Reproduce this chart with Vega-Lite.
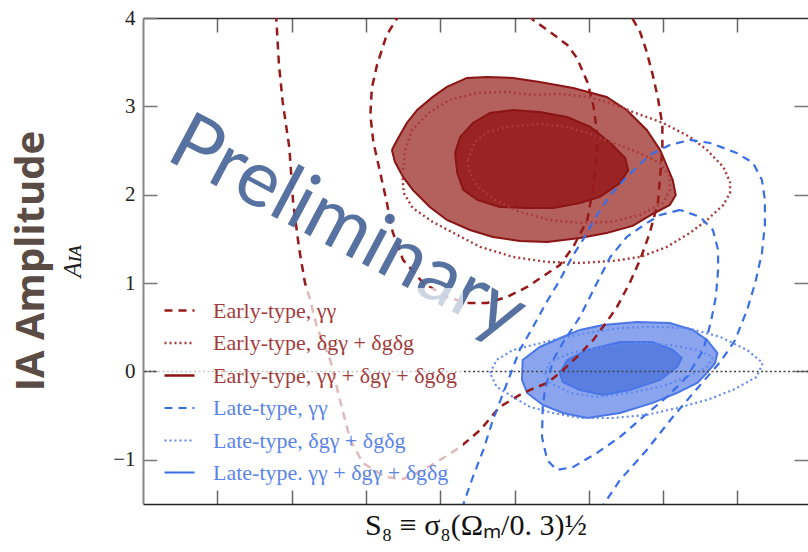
{
"$schema": "https://vega.github.io/schema/vega-lite/v6.json",
"width": 665, "height": 486,
"autosize": {"type": "none"},
"padding": {"left": 143, "top": 18, "right": 0, "bottom": 48},
"background": "white",
"config": {"view": {"stroke": null}, "axis": {"grid": false}},
"title": {"text": "IA Amplitude", "orient": "left", "anchor": "middle", "font": "Open Sans", "fontSize": 40, "fontWeight": "bold", "color": "#5b4b45", "offset": 9},
"resolve": {"axis": {"x": "independent", "y": "independent"}},
"datasets": {
"zero": [{"y": 0}],
"wm": [{"x": 0.76, "y": 1.375, "t": "Preliminary"}],
"pts": [
{"k":"E1a","s":"E1","i":0,"x":0.679,"y":4.05},{"k":"E1a","s":"E1","i":1,"x":0.683,"y":3.469},{"k":"E1a","s":"E1","i":2,"x":0.688,"y":3.05},{"k":"E1a","s":"E1","i":3,"x":0.697,"y":2.529},{"k":"E1a","s":"E1","i":4,"x":0.702,"y":1.918},{"k":"E1a","s":"E1","i":5,"x":0.71,"y":1.398},{"k":"E1a","s":"E1","i":6,"x":0.718,"y":1.002},{"k":"E1a","s":"E1","i":7,"x":0.725,"y":0.809},{"k":"E1a","s":"E1","i":8,"x":0.734,"y":0.504},{"k":"E1a","s":"E1","i":9,"x":0.752,"y":0.13},{"k":"E1a","s":"E1","i":10,"x":0.765,"y":-0.323},{"k":"E1a","s":"E1","i":11,"x":0.779,"y":-0.775},{"k":"E1a","s":"E1","i":12,"x":0.796,"y":-1.036},{"k":"E1a","s":"E1","i":13,"x":0.826,"y":-1.194},{"k":"E1a","s":"E1","i":14,"x":0.85,"y":-1.217},{"k":"E1a","s":"E1","i":15,"x":0.877,"y":-1.115},{"k":"E1a","s":"E1","i":16,"x":0.904,"y":-0.979},{"k":"E1a","s":"E1","i":17,"x":0.927,"y":-0.854},{"k":"E1a","s":"E1","i":18,"x":0.954,"y":-0.662},{"k":"E1a","s":"E1","i":19,"x":0.98,"y":-0.402},{"k":"E1a","s":"E1","i":20,"x":1.007,"y":-0.266},{"k":"E1a","s":"E1","i":21,"x":1.021,"y":-0.209},{"k":"E1a","s":"E1","i":22,"x":1.044,"y":-0.13},{"k":"E1a","s":"E1","i":23,"x":1.061,"y":-0.017},{"k":"E1a","s":"E1","i":24,"x":1.084,"y":0.164},{"k":"E1a","s":"E1","i":25,"x":1.106,"y":0.356},{"k":"E1a","s":"E1","i":26,"x":1.124,"y":0.56},{"k":"E1a","s":"E1","i":27,"x":1.138,"y":0.73},{"k":"E1a","s":"E1","i":28,"x":1.155,"y":1.002},{"k":"E1a","s":"E1","i":29,"x":1.169,"y":1.262},{"k":"E1a","s":"E1","i":30,"x":1.182,"y":1.567},{"k":"E1a","s":"E1","i":31,"x":1.193,"y":1.907},{"k":"E1a","s":"E1","i":32,"x":1.196,"y":2.201},{"k":"E1a","s":"E1","i":33,"x":1.199,"y":2.529},{"k":"E1a","s":"E1","i":34,"x":1.199,"y":2.79},{"k":"E1a","s":"E1","i":35,"x":1.193,"y":3.095},{"k":"E1a","s":"E1","i":36,"x":1.186,"y":3.356},{"k":"E1a","s":"E1","i":37,"x":1.178,"y":3.616},{"k":"E1a","s":"E1","i":38,"x":1.169,"y":3.842},{"k":"E1a","s":"E1","i":39,"x":1.155,"y":4.05},
{"k":"E1b","s":"E1","i":0,"x":0.846,"y":4.05},{"k":"E1b","s":"E1","i":1,"x":0.828,"y":3.808},{"k":"E1b","s":"E1","i":2,"x":0.815,"y":3.469},{"k":"E1b","s":"E1","i":3,"x":0.808,"y":3.208},{"k":"E1b","s":"E1","i":4,"x":0.806,"y":2.903},{"k":"E1b","s":"E1","i":5,"x":0.81,"y":2.597},{"k":"E1b","s":"E1","i":6,"x":0.819,"y":2.258},{"k":"E1b","s":"E1","i":7,"x":0.828,"y":1.918},{"k":"E1b","s":"E1","i":8,"x":0.836,"y":1.579},{"k":"E1b","s":"E1","i":9,"x":0.85,"y":1.262},{"k":"E1b","s":"E1","i":10,"x":0.877,"y":1.002},{"k":"E1b","s":"E1","i":11,"x":0.909,"y":0.843},{"k":"E1b","s":"E1","i":12,"x":0.936,"y":0.775},{"k":"E1b","s":"E1","i":13,"x":0.963,"y":0.775},{"k":"E1b","s":"E1","i":14,"x":0.99,"y":0.843},{"k":"E1b","s":"E1","i":15,"x":1.017,"y":0.956},{"k":"E1b","s":"E1","i":16,"x":1.041,"y":1.092},{"k":"E1b","s":"E1","i":17,"x":1.061,"y":1.205},{"k":"E1b","s":"E1","i":18,"x":1.079,"y":1.409},{"k":"E1b","s":"E1","i":19,"x":1.098,"y":1.714},{"k":"E1b","s":"E1","i":20,"x":1.106,"y":2.088},{"k":"E1b","s":"E1","i":21,"x":1.111,"y":2.45},{"k":"E1b","s":"E1","i":22,"x":1.111,"y":2.71},{"k":"E1b","s":"E1","i":23,"x":1.106,"y":3.016},{"k":"E1b","s":"E1","i":24,"x":1.098,"y":3.276},{"k":"E1b","s":"E1","i":25,"x":1.084,"y":3.548},{"k":"E1b","s":"E1","i":26,"x":1.071,"y":3.695},{"k":"E1b","s":"E1","i":27,"x":1.048,"y":3.842},{"k":"E1b","s":"E1","i":28,"x":1.025,"y":3.978},{"k":"E1b","s":"E1","i":29,"x":1.018,"y":4.05},
{"k":"E3a","s":"E3","i":0,"x":0.835,"y":2.507},{"k":"E3a","s":"E3","i":1,"x":0.842,"y":2.62},{"k":"E3a","s":"E3","i":2,"x":0.855,"y":2.812},{"k":"E3a","s":"E3","i":3,"x":0.869,"y":2.959},{"k":"E3a","s":"E3","i":4,"x":0.89,"y":3.107},{"k":"E3a","s":"E3","i":5,"x":0.909,"y":3.22},{"k":"E3a","s":"E3","i":6,"x":0.936,"y":3.322},{"k":"E3a","s":"E3","i":7,"x":0.963,"y":3.333},{"k":"E3a","s":"E3","i":8,"x":0.998,"y":3.322},{"k":"E3a","s":"E3","i":9,"x":1.034,"y":3.276},{"k":"E3a","s":"E3","i":10,"x":1.079,"y":3.208},{"k":"E3a","s":"E3","i":11,"x":1.124,"y":3.107},{"k":"E3a","s":"E3","i":12,"x":1.151,"y":2.959},{"k":"E3a","s":"E3","i":13,"x":1.178,"y":2.733},{"k":"E3a","s":"E3","i":14,"x":1.196,"y":2.507},{"k":"E3a","s":"E3","i":15,"x":1.213,"y":2.167},{"k":"E3a","s":"E3","i":16,"x":1.217,"y":1.997},{"k":"E3a","s":"E3","i":17,"x":1.209,"y":1.884},{"k":"E3a","s":"E3","i":18,"x":1.186,"y":1.782},{"k":"E3a","s":"E3","i":19,"x":1.159,"y":1.647},{"k":"E3a","s":"E3","i":20,"x":1.124,"y":1.567},{"k":"E3a","s":"E3","i":21,"x":1.088,"y":1.511},{"k":"E3a","s":"E3","i":22,"x":1.044,"y":1.466},{"k":"E3a","s":"E3","i":23,"x":1.007,"y":1.477},{"k":"E3a","s":"E3","i":24,"x":0.971,"y":1.522},{"k":"E3a","s":"E3","i":25,"x":0.94,"y":1.601},{"k":"E3a","s":"E3","i":26,"x":0.909,"y":1.714},{"k":"E3a","s":"E3","i":27,"x":0.886,"y":1.862},{"k":"E3a","s":"E3","i":28,"x":0.863,"y":2.054},{"k":"E3a","s":"E3","i":29,"x":0.85,"y":2.201},{"k":"E3a","s":"E3","i":30,"x":0.839,"y":2.371},{"k":"E3a","s":"E3","i":31,"x":0.835,"y":2.507},
{"k":"E3b","s":"E3","i":0,"x":0.92,"y":2.473},{"k":"E3b","s":"E3","i":1,"x":0.927,"y":2.654},{"k":"E3b","s":"E3","i":2,"x":0.944,"y":2.812},{"k":"E3b","s":"E3","i":3,"x":0.967,"y":2.925},{"k":"E3b","s":"E3","i":4,"x":0.998,"y":2.959},{"k":"E3b","s":"E3","i":5,"x":1.034,"y":2.937},{"k":"E3b","s":"E3","i":6,"x":1.071,"y":2.88},{"k":"E3b","s":"E3","i":7,"x":1.102,"y":2.767},{"k":"E3b","s":"E3","i":8,"x":1.129,"y":2.586},{"k":"E3b","s":"E3","i":9,"x":1.149,"y":2.416},{"k":"E3b","s":"E3","i":10,"x":1.153,"y":2.28},{"k":"E3b","s":"E3","i":11,"x":1.142,"y":2.133},{"k":"E3b","s":"E3","i":12,"x":1.115,"y":1.975},{"k":"E3b","s":"E3","i":13,"x":1.088,"y":1.907},{"k":"E3b","s":"E3","i":14,"x":1.052,"y":1.85},{"k":"E3b","s":"E3","i":15,"x":1.017,"y":1.85},{"k":"E3b","s":"E3","i":16,"x":0.98,"y":1.862},{"k":"E3b","s":"E3","i":17,"x":0.95,"y":1.941},{"k":"E3b","s":"E3","i":18,"x":0.931,"y":2.054},{"k":"E3b","s":"E3","i":19,"x":0.923,"y":2.246},{"k":"E3b","s":"E3","i":20,"x":0.92,"y":2.473},
{"k":"E2a","s":"E2","i":0,"x":0.849,"y":2.224},{"k":"E2a","s":"E2","i":1,"x":0.853,"y":2.507},{"k":"E2a","s":"E2","i":2,"x":0.862,"y":2.733},{"k":"E2a","s":"E2","i":3,"x":0.886,"y":2.937},{"k":"E2a","s":"E2","i":4,"x":0.913,"y":3.073},{"k":"E2a","s":"E2","i":5,"x":0.95,"y":3.152},{"k":"E2a","s":"E2","i":6,"x":0.99,"y":3.163},{"k":"E2a","s":"E2","i":7,"x":1.025,"y":3.129},{"k":"E2a","s":"E2","i":8,"x":1.061,"y":3.141},{"k":"E2a","s":"E2","i":9,"x":1.098,"y":3.107},{"k":"E2a","s":"E2","i":10,"x":1.133,"y":3.027},{"k":"E2a","s":"E2","i":11,"x":1.159,"y":2.937},{"k":"E2a","s":"E2","i":12,"x":1.2,"y":2.812},{"k":"E2a","s":"E2","i":13,"x":1.236,"y":2.654},{"k":"E2a","s":"E2","i":14,"x":1.259,"y":2.507},{"k":"E2a","s":"E2","i":15,"x":1.281,"y":2.314},{"k":"E2a","s":"E2","i":16,"x":1.29,"y":2.145},{"k":"E2a","s":"E2","i":17,"x":1.29,"y":2.02},{"k":"E2a","s":"E2","i":18,"x":1.281,"y":1.884},{"k":"E2a","s":"E2","i":19,"x":1.259,"y":1.714},{"k":"E2a","s":"E2","i":20,"x":1.236,"y":1.567},{"k":"E2a","s":"E2","i":21,"x":1.205,"y":1.409},{"k":"E2a","s":"E2","i":22,"x":1.169,"y":1.296},{"k":"E2a","s":"E2","i":23,"x":1.133,"y":1.251},{"k":"E2a","s":"E2","i":24,"x":1.088,"y":1.228},{"k":"E2a","s":"E2","i":25,"x":1.044,"y":1.239},{"k":"E2a","s":"E2","i":26,"x":0.998,"y":1.296},{"k":"E2a","s":"E2","i":27,"x":0.954,"y":1.409},{"k":"E2a","s":"E2","i":28,"x":0.923,"y":1.545},{"k":"E2a","s":"E2","i":29,"x":0.89,"y":1.692},{"k":"E2a","s":"E2","i":30,"x":0.863,"y":1.85},{"k":"E2a","s":"E2","i":31,"x":0.851,"y":2.02},{"k":"E2a","s":"E2","i":32,"x":0.849,"y":2.224},
{"k":"E2b","s":"E2","i":0,"x":0.937,"y":2.394},{"k":"E2b","s":"E2","i":1,"x":0.947,"y":2.597},{"k":"E2b","s":"E2","i":2,"x":0.964,"y":2.71},{"k":"E2b","s":"E2","i":3,"x":0.99,"y":2.767},{"k":"E2b","s":"E2","i":4,"x":1.034,"y":2.801},{"k":"E2b","s":"E2","i":5,"x":1.071,"y":2.767},{"k":"E2b","s":"E2","i":6,"x":1.102,"y":2.688},{"k":"E2b","s":"E2","i":7,"x":1.133,"y":2.586},{"k":"E2b","s":"E2","i":8,"x":1.165,"y":2.484},{"k":"E2b","s":"E2","i":9,"x":1.196,"y":2.36},{"k":"E2b","s":"E2","i":10,"x":1.209,"y":2.201},{"k":"E2b","s":"E2","i":11,"x":1.209,"y":2.054},{"k":"E2b","s":"E2","i":12,"x":1.2,"y":1.907},{"k":"E2b","s":"E2","i":13,"x":1.169,"y":1.771},{"k":"E2b","s":"E2","i":14,"x":1.129,"y":1.692},{"k":"E2b","s":"E2","i":15,"x":1.088,"y":1.681},{"k":"E2b","s":"E2","i":16,"x":1.048,"y":1.714},{"k":"E2b","s":"E2","i":17,"x":1.007,"y":1.805},{"k":"E2b","s":"E2","i":18,"x":0.974,"y":1.941},{"k":"E2b","s":"E2","i":19,"x":0.951,"y":2.088},{"k":"E2b","s":"E2","i":20,"x":0.94,"y":2.246},{"k":"E2b","s":"E2","i":21,"x":0.937,"y":2.394},
{"k":"L3a","s":"L3","i":0,"x":1.01,"y":-0.096},{"k":"L3a","s":"L3","i":1,"x":1.011,"y":0.13},{"k":"L3a","s":"L3","i":2,"x":1.034,"y":0.277},{"k":"L3a","s":"L3","i":3,"x":1.065,"y":0.39},{"k":"L3a","s":"L3","i":4,"x":1.088,"y":0.47},{"k":"L3a","s":"L3","i":5,"x":1.119,"y":0.526},{"k":"L3a","s":"L3","i":6,"x":1.165,"y":0.56},{"k":"L3a","s":"L3","i":7,"x":1.209,"y":0.549},{"k":"L3a","s":"L3","i":8,"x":1.24,"y":0.47},{"k":"L3a","s":"L3","i":9,"x":1.259,"y":0.356},{"k":"L3a","s":"L3","i":10,"x":1.273,"y":0.209},{"k":"L3a","s":"L3","i":11,"x":1.27,"y":0.096},{"k":"L3a","s":"L3","i":12,"x":1.259,"y":-0.017},{"k":"L3a","s":"L3","i":13,"x":1.246,"y":-0.13},{"k":"L3a","s":"L3","i":14,"x":1.219,"y":-0.243},{"k":"L3a","s":"L3","i":15,"x":1.186,"y":-0.356},{"k":"L3a","s":"L3","i":16,"x":1.142,"y":-0.47},{"k":"L3a","s":"L3","i":17,"x":1.098,"y":-0.526},{"k":"L3a","s":"L3","i":18,"x":1.065,"y":-0.47},{"k":"L3a","s":"L3","i":19,"x":1.038,"y":-0.379},{"k":"L3a","s":"L3","i":20,"x":1.017,"y":-0.243},{"k":"L3a","s":"L3","i":21,"x":1.01,"y":-0.096},
{"k":"L3b","s":"L3","i":0,"x":1.061,"y":-0.017},{"k":"L3b","s":"L3","i":1,"x":1.071,"y":0.13},{"k":"L3b","s":"L3","i":2,"x":1.098,"y":0.243},{"k":"L3b","s":"L3","i":3,"x":1.142,"y":0.334},{"k":"L3b","s":"L3","i":4,"x":1.186,"y":0.334},{"k":"L3b","s":"L3","i":5,"x":1.213,"y":0.243},{"k":"L3b","s":"L3","i":6,"x":1.225,"y":0.153},{"k":"L3b","s":"L3","i":7,"x":1.219,"y":0.051},{"k":"L3b","s":"L3","i":8,"x":1.196,"y":-0.096},{"k":"L3b","s":"L3","i":9,"x":1.155,"y":-0.209},{"k":"L3b","s":"L3","i":10,"x":1.119,"y":-0.266},{"k":"L3b","s":"L3","i":11,"x":1.088,"y":-0.209},{"k":"L3b","s":"L3","i":12,"x":1.065,"y":-0.119},{"k":"L3b","s":"L3","i":13,"x":1.061,"y":-0.017},
{"k":"L2a","s":"L2","i":0,"x":0.967,"y":-0.017},{"k":"L2a","s":"L2","i":1,"x":0.976,"y":0.13},{"k":"L2a","s":"L2","i":2,"x":0.998,"y":0.243},{"k":"L2a","s":"L2","i":3,"x":1.052,"y":0.356},{"k":"L2a","s":"L2","i":4,"x":1.098,"y":0.436},{"k":"L2a","s":"L2","i":5,"x":1.142,"y":0.492},{"k":"L2a","s":"L2","i":6,"x":1.186,"y":0.504},{"k":"L2a","s":"L2","i":7,"x":1.232,"y":0.492},{"k":"L2a","s":"L2","i":8,"x":1.277,"y":0.39},{"k":"L2a","s":"L2","i":9,"x":1.313,"y":0.243},{"k":"L2a","s":"L2","i":10,"x":1.334,"y":0.096},{"k":"L2a","s":"L2","i":11,"x":1.326,"y":-0.062},{"k":"L2a","s":"L2","i":12,"x":1.294,"y":-0.209},{"k":"L2a","s":"L2","i":13,"x":1.259,"y":-0.323},{"k":"L2a","s":"L2","i":14,"x":1.219,"y":-0.413},{"k":"L2a","s":"L2","i":15,"x":1.178,"y":-0.492},{"k":"L2a","s":"L2","i":16,"x":1.133,"y":-0.526},{"k":"L2a","s":"L2","i":17,"x":1.088,"y":-0.526},{"k":"L2a","s":"L2","i":18,"x":1.052,"y":-0.47},{"k":"L2a","s":"L2","i":19,"x":1.021,"y":-0.402},{"k":"L2a","s":"L2","i":20,"x":0.998,"y":-0.289},{"k":"L2a","s":"L2","i":21,"x":0.976,"y":-0.175},{"k":"L2a","s":"L2","i":22,"x":0.967,"y":-0.017},
{"k":"L2b","s":"L2","i":0,"x":1.041,"y":-0.017},{"k":"L2b","s":"L2","i":1,"x":1.048,"y":0.108},{"k":"L2b","s":"L2","i":2,"x":1.075,"y":0.209},{"k":"L2b","s":"L2","i":3,"x":1.119,"y":0.277},{"k":"L2b","s":"L2","i":4,"x":1.165,"y":0.323},{"k":"L2b","s":"L2","i":5,"x":1.209,"y":0.3},{"k":"L2b","s":"L2","i":6,"x":1.246,"y":0.243},{"k":"L2b","s":"L2","i":7,"x":1.267,"y":0.164},{"k":"L2b","s":"L2","i":8,"x":1.259,"y":0.051},{"k":"L2b","s":"L2","i":9,"x":1.232,"y":-0.062},{"k":"L2b","s":"L2","i":10,"x":1.196,"y":-0.175},{"k":"L2b","s":"L2","i":11,"x":1.155,"y":-0.243},{"k":"L2b","s":"L2","i":12,"x":1.111,"y":-0.289},{"k":"L2b","s":"L2","i":13,"x":1.075,"y":-0.243},{"k":"L2b","s":"L2","i":14,"x":1.048,"y":-0.13},{"k":"L2b","s":"L2","i":15,"x":1.041,"y":-0.017},
{"k":"L1a","s":"L1","i":0,"x":0.929,"y":-1.556},{"k":"L1a","s":"L1","i":1,"x":0.944,"y":-1.194},{"k":"L1a","s":"L1","i":2,"x":0.958,"y":-0.888},{"k":"L1a","s":"L1","i":3,"x":0.971,"y":-0.549},{"k":"L1a","s":"L1","i":4,"x":0.99,"y":-0.13},{"k":"L1a","s":"L1","i":5,"x":1.007,"y":0.243},{"k":"L1a","s":"L1","i":6,"x":1.025,"y":0.504},{"k":"L1a","s":"L1","i":7,"x":1.041,"y":0.753},{"k":"L1a","s":"L1","i":8,"x":1.061,"y":1.035},{"k":"L1a","s":"L1","i":9,"x":1.079,"y":1.318},{"k":"L1a","s":"L1","i":10,"x":1.092,"y":1.488},{"k":"L1a","s":"L1","i":11,"x":1.111,"y":1.771},{"k":"L1a","s":"L1","i":12,"x":1.129,"y":1.997},{"k":"L1a","s":"L1","i":13,"x":1.151,"y":2.201},{"k":"L1a","s":"L1","i":14,"x":1.182,"y":2.45},{"k":"L1a","s":"L1","i":15,"x":1.209,"y":2.563},{"k":"L1a","s":"L1","i":16,"x":1.236,"y":2.62},{"k":"L1a","s":"L1","i":17,"x":1.263,"y":2.586},{"k":"L1a","s":"L1","i":18,"x":1.299,"y":2.473},{"k":"L1a","s":"L1","i":19,"x":1.321,"y":2.36},{"k":"L1a","s":"L1","i":20,"x":1.333,"y":2.167},{"k":"L1a","s":"L1","i":21,"x":1.337,"y":1.941},{"k":"L1a","s":"L1","i":22,"x":1.337,"y":1.658},{"k":"L1a","s":"L1","i":23,"x":1.333,"y":1.341},{"k":"L1a","s":"L1","i":24,"x":1.324,"y":1.002},{"k":"L1a","s":"L1","i":25,"x":1.313,"y":0.696},{"k":"L1a","s":"L1","i":26,"x":1.297,"y":0.356},{"k":"L1a","s":"L1","i":27,"x":1.277,"y":0.108},{"k":"L1a","s":"L1","i":28,"x":1.25,"y":-0.153},{"k":"L1a","s":"L1","i":29,"x":1.213,"y":-0.515},{"k":"L1a","s":"L1","i":30,"x":1.178,"y":-0.888},{"k":"L1a","s":"L1","i":31,"x":1.142,"y":-1.228},{"k":"L1a","s":"L1","i":32,"x":1.116,"y":-1.556},
{"k":"L1b","s":"L1","i":0,"x":1.223,"y":1.828},{"k":"L1b","s":"L1","i":1,"x":1.196,"y":1.771},{"k":"L1b","s":"L1","i":2,"x":1.176,"y":1.669},{"k":"L1b","s":"L1","i":3,"x":1.151,"y":1.522},{"k":"L1b","s":"L1","i":4,"x":1.129,"y":1.296},{"k":"L1b","s":"L1","i":5,"x":1.111,"y":1.002},{"k":"L1b","s":"L1","i":6,"x":1.088,"y":0.617},{"k":"L1b","s":"L1","i":7,"x":1.065,"y":0.323},{"k":"L1b","s":"L1","i":8,"x":1.052,"y":0.13},{"k":"L1b","s":"L1","i":9,"x":1.041,"y":-0.209},{"k":"L1b","s":"L1","i":10,"x":1.038,"y":-0.402},{"k":"L1b","s":"L1","i":11,"x":1.037,"y":-0.741},{"k":"L1b","s":"L1","i":12,"x":1.044,"y":-1.002},{"k":"L1b","s":"L1","i":13,"x":1.057,"y":-1.115},{"k":"L1b","s":"L1","i":14,"x":1.079,"y":-1.081},{"k":"L1b","s":"L1","i":15,"x":1.111,"y":-0.922},{"k":"L1b","s":"L1","i":16,"x":1.142,"y":-0.741},{"k":"L1b","s":"L1","i":17,"x":1.173,"y":-0.515},{"k":"L1b","s":"L1","i":18,"x":1.205,"y":-0.289},{"k":"L1b","s":"L1","i":19,"x":1.232,"y":-0.062},{"k":"L1b","s":"L1","i":20,"x":1.254,"y":0.243},{"k":"L1b","s":"L1","i":21,"x":1.264,"y":0.549},{"k":"L1b","s":"L1","i":22,"x":1.271,"y":0.843},{"k":"L1b","s":"L1","i":23,"x":1.274,"y":1.149},{"k":"L1b","s":"L1","i":24,"x":1.274,"y":1.375},{"k":"L1b","s":"L1","i":25,"x":1.267,"y":1.601},{"k":"L1b","s":"L1","i":26,"x":1.25,"y":1.748},{"k":"L1b","s":"L1","i":27,"x":1.223,"y":1.828}
]},
"layer": [
{
"data": {"name": "pts"},
"transform": [{"filter": {"field": "k", "oneOf": ["E3a", "E3b"]}}],
"mark": {"type": "line", "stroke": "#8b1414", "strokeWidth": 2, "clip": true},
"encoding": {
"x": {"field": "x", "type": "quantitative", "scale": {"domain": [0.5, 1.395], "nice": false, "zero": false},
 "axis": {"orient": "bottom", "values": [0.6,0.7,0.8,0.9,1.0,1.1,1.2,1.3], "labels": false, "tickSize": -14, "tickColor": "#666", "tickWidth": 1.5, "domainColor": "#222", "domainWidth": 1.5, "title": "S₈ ≡ σ₈(Ωₘ/0. 3)½", "titleFont": "Liberation Serif", "titleFontSize": 30, "titleFontWeight": "normal", "titleColor": "#111", "titlePadding": 6}},
"y": {"field": "y", "type": "quantitative", "scale": {"domain": [-1.5, 4], "nice": false, "zero": false},
 "axis": {"orient": "left", "values": [-1,0,1,2,3,4], "tickSize": -14, "tickColor": "#777", "tickWidth": 1.5, "domainColor": "#888", "domainWidth": 2, "labelFont": "Liberation Serif", "labelFontSize": 21, "labelColor": "#222", "labelPadding": 22, "labelFlush": false, "labelOverlap": false, "title": "Aɪᴀ", "titleFont": "Liberation Serif", "titleFontSize": 25, "titleFontStyle": "italic", "titleFontWeight": "normal", "titleColor": "#222", "titlePadding": 27}},
"order": {"field": "i", "type": "quantitative"},
"fill": {"field": "k", "type": "nominal", "scale": {"domain": ["E3a", "E3b", "L3a", "L3b"], "range": ["#b4605d", "#9a2323", "#8aa5ee", "#5a7ee0"]}, "legend": null}
}
},
{
"data": {"name": "pts"},
"transform": [{"filter": {"field": "k", "oneOf": ["L3a", "L3b"]}}],
"mark": {"type": "line", "stroke": "#4a76e6", "strokeWidth": 2, "clip": true},
"encoding": {
"x": {"field": "x", "type": "quantitative", "axis": {"orient": "top", "values": [0.6,0.7,0.8,0.9,1.0,1.1,1.2,1.3], "labels": false, "tickSize": -14, "tickColor": "#666", "tickWidth": 1.5, "domainColor": "#333", "domainWidth": 1.5, "title": null}},
"y": {"field": "y", "type": "quantitative", "axis": {"orient": "right", "values": [-1,0,1,2,3], "labels": false, "tickSize": -14, "tickColor": "#777", "tickWidth": 1.5, "domain": false, "title": null}},
"order": {"field": "i", "type": "quantitative"},
"fill": {"field": "k", "type": "nominal", "legend": null}
}
},
{
"data": {"name": "zero"},
"mark": {"type": "rule", "color": "#444", "strokeDash": [2, 2.5], "strokeWidth": 1.5},
"encoding": {"y": {"field": "y", "type": "quantitative", "axis": null}}
},
{
"data": {"name": "pts"},
"transform": [{"filter": {"field": "k", "oneOf": ["E1a", "E1b", "E2a", "E2b", "L1a", "L1b", "L2a", "L2b"]}}],
"mark": {"type": "line", "clip": true},
"encoding": {
"x": {"field": "x", "type": "quantitative", "axis": null},
"y": {"field": "y", "type": "quantitative", "axis": null},
"order": {"field": "i", "type": "quantitative"},
"detail": {"field": "k"},
"stroke": {"field": "s", "type": "nominal", "title": null,
 "scale": {"domain": ["E1","E2","E3","L1","L2","L3"], "range": ["#971a1a","#a83c3c","#8e1212","#3a6fe8","#5e88ec","#3a6fe8"]},
 "legend": {"title": null, "orient": "none", "legendX": 14, "legendY": 270, "symbolType": "stroke", "symbolSize": 900, "labelFont": "Liberation Serif", "labelFontSize": 22, "labelOffset": 17, "rowPadding": 4.5, "padding": 6, "fillColor": "rgba(255,255,255,0.7)", "labelLimit": 400,
  "labelExpr": "{'E1':'Early-type, γγ','E2':'Early-type, δgγ + δgδg','E3':'Early-type, γγ + δgγ + δgδg','L1':'Late-type, γγ','L2':'Late-type, δgγ + δgδg','L3':'Late-type. γγ + δgγ + δgδg'}[datum.value]",
  "encode": {"labels": {"update": {"fill": {"signal": "indexof(datum.value, 'E') === 0 ? '#a33b3b' : '#5a84ea'"}}}}}},
"strokeDash": {"field": "s", "type": "nominal", "title": null,
 "scale": {"domain": ["E1","E2","E3","L1","L2","L3"], "range": [[8,6],[2,3],[1,0],[8,6],[2,3],[1,0]]},
 "legend": {"title": null, "orient": "none", "legendX": 14, "legendY": 270, "symbolType": "stroke", "symbolSize": 900, "labelFont": "Liberation Serif", "labelFontSize": 22, "labelOffset": 17, "rowPadding": 4.5, "padding": 6, "fillColor": "rgba(255,255,255,0.7)", "labelLimit": 400,
  "labelExpr": "{'E1':'Early-type, γγ','E2':'Early-type, δgγ + δgδg','E3':'Early-type, γγ + δgγ + δgδg','L1':'Late-type, γγ','L2':'Late-type, δgγ + δgδg','L3':'Late-type. γγ + δgγ + δgδg'}[datum.value]",
  "encode": {"labels": {"update": {"fill": {"signal": "indexof(datum.value, 'E') === 0 ? '#a33b3b' : '#5a84ea'"}}}}}},
"strokeWidth": {"field": "s", "type": "nominal", "title": null,
 "scale": {"domain": ["E1","E2","E3","L1","L2","L3"], "range": [2.5,2,5,2.5,2,5]},
 "legend": {"title": null, "orient": "none", "legendX": 14, "legendY": 270, "symbolType": "stroke", "symbolSize": 900, "labelFont": "Liberation Serif", "labelFontSize": 22, "labelOffset": 17, "rowPadding": 4.5, "padding": 6, "fillColor": "rgba(255,255,255,0.7)", "labelLimit": 400,
  "labelExpr": "{'E1':'Early-type, γγ','E2':'Early-type, δgγ + δgδg','E3':'Early-type, γγ + δgγ + δgδg','L1':'Late-type, γγ','L2':'Late-type, δgγ + δgδg','L3':'Late-type. γγ + δgγ + δgδg'}[datum.value]",
  "encode": {"labels": {"update": {"fill": {"signal": "indexof(datum.value, 'E') === 0 ? '#a33b3b' : '#5a84ea'"}}}}}}
}
},
{
"data": {"name": "wm"},
"mark": {"type": "text", "font": "Lato", "fontSize": 79, "angle": 28, "align": "center", "baseline": "alphabetic", "fill": "#4f6a9c", "opacity": 0.95},
"encoding": {
"x": {"field": "x", "type": "quantitative", "axis": null},
"y": {"field": "y", "type": "quantitative", "axis": null},
"text": {"field": "t"}
}
}
]
}
